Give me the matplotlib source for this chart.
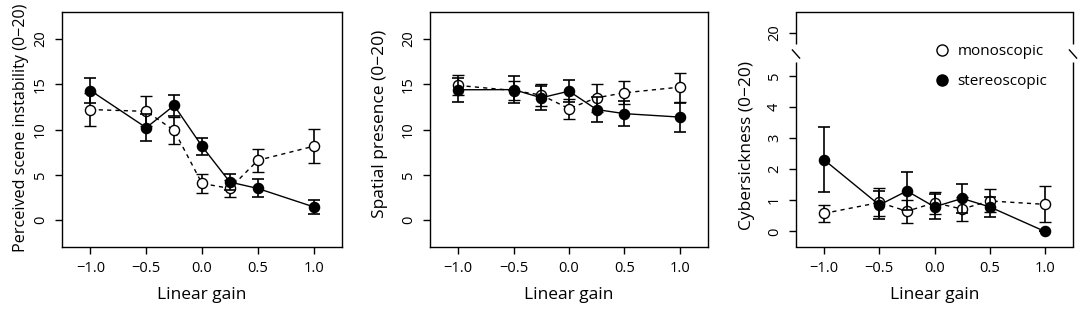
import matplotlib
matplotlib.use("Agg")
import matplotlib.pyplot as plt
from matplotlib.lines import Line2D

plt.rcParams['font.family'] = ['Open Sans', 'DejaVu Sans']

# ganancia lineal (eje x)
gain = [-1.0, -0.5, -0.25, 0.0, 0.25, 0.5, 1.0]

# inestabilidad de la escena
inst_mono = [12.2, 12.0, 9.9, 4.05, 3.5, 6.6, 8.15]
inst_mono_se = [1.85, 1.65, 1.45, 1.03, 0.9, 1.3, 1.9]
inst_stereo = [14.3, 10.2, 12.65, 8.15, 4.2, 3.5, 1.47]
inst_stereo_se = [1.4, 1.5, 1.2, 0.95, 0.9, 1.0, 0.8]

# presencia espacial
pres_mono = [14.86, 14.3, 13.8, 12.3, 13.5, 14.05, 14.67]
pres_mono_se = [1.1, 1.1, 1.25, 1.1, 1.55, 1.25, 1.6]
pres_stereo = [14.38, 14.4, 13.5, 14.23, 12.2, 11.75, 11.37]
pres_stereo_se = [1.35, 1.45, 1.3, 1.25, 1.4, 1.35, 1.6]

# cibermareo
cyber_mono = [0.58, 0.93, 0.65, 0.92, 0.72, 0.98, 0.87]
cyber_mono_se = [0.28, 0.45, 0.37, 0.36, 0.39, 0.37, 0.58]
cyber_stereo = [2.3, 0.85, 1.3, 0.79, 1.06, 0.79, 0.0]
cyber_stereo_se = [1.04, 0.45, 0.6, 0.4, 0.48, 0.33, 0.0]

xticks = [-1.0, -0.5, 0.0, 0.5, 1.0]
xticklabels = ["\u22121.0", "\u22120.5", "0.0", "0.5", "1.0"]

TICK_FS = 10.5
LABEL_FS = 12.5

fig = plt.figure(figsize=(10.84, 3.11), dpi=100)
W, H = 1084, 311

def make_axes(x0, x1, y0=12, y1=247):
    return fig.add_axes([x0 / W, 1 - y1 / H, (x1 - x0) / W, (y1 - y0) / H])

axes = [make_axes(62, 342), make_axes(430, 708), make_axes(796, 1073)]

def draw(ax, mono, mono_se, stereo, stereo_se):
    ax.errorbar(gain, mono, yerr=mono_se, color='black', lw=1.0,
                linestyle=(0, (3, 3)), marker='o', ms=7.3, mfc='white',
                mec='black', mew=1.0, capsize=4.5, elinewidth=1.2,
                capthick=1.2, zorder=2)
    ax.errorbar(gain, stereo, yerr=stereo_se, color='black', lw=1.0,
                linestyle='-', marker='o', ms=7.3, mfc='black', mec='black',
                capsize=4.5, elinewidth=1.2, capthick=1.2, zorder=3)
    ax.set_xlim(-1.255, 1.255)
    ax.set_xticks(xticks)
    ax.set_xticklabels(xticklabels)
    ax.set_xlabel("Linear gain", fontsize=LABEL_FS, labelpad=8)
    ax.tick_params(direction='out', length=5, width=1, labelsize=TICK_FS, pad=5)
    for s in ax.spines.values():
        s.set_linewidth(1.0)

draw(axes[0], inst_mono, inst_mono_se, inst_stereo, inst_stereo_se)
draw(axes[1], pres_mono, pres_mono_se, pres_stereo, pres_stereo_se)
draw(axes[2], cyber_mono, cyber_mono_se, cyber_stereo, cyber_stereo_se)

ylabels = ["Perceived scene instability (0\u221220)", "Spatial presence (0\u221220)"]
ylabel_fs = [11.6, LABEL_FS]
ylabel_pos = [(-0.118, 0.508), (-0.151, 0.523)]
for ax, lab, fs, pos in zip(axes[:2], ylabels, ylabel_fs, ylabel_pos):
    ax.set_ylim(-2.96, 22.96)
    ax.set_yticks([0, 5, 10, 15, 20])
    ax.set_ylabel(lab, fontsize=fs)
    ax.yaxis.set_label_coords(*pos)
    for t in ax.get_yticklabels():
        t.set_rotation(90)
        t.set_va('center')

# panel de cibermareo con eje cortado
ax = axes[2]
ax.set_ylim(-0.5, 7.05)
ax.set_yticks([0, 1, 2, 3, 4, 5, 6.38])
ax.set_yticklabels(["0", "1", "2", "3", "4", "5", "20"])
for t in ax.get_yticklabels():
    t.set_rotation(90)
    t.set_va('center')
ax.set_ylabel("Cybersickness (0\u221220)", fontsize=LABEL_FS)
ax.yaxis.set_label_coords(-0.148, 0.434)
ax.spines['left'].set_visible(False)
ax.spines['right'].set_visible(False)
tr = ax.get_yaxis_transform()
for xs in (0, 1):
    ax.plot([xs, xs], [-0.5, 5.44], color='black', lw=1.0, transform=tr,
            clip_on=False, solid_capstyle='butt')
    ax.plot([xs, xs], [6.02, 7.05], color='black', lw=1.0, transform=tr,
            clip_on=False, solid_capstyle='butt')
    ax.plot([xs - 0.013, xs + 0.013], [5.83, 5.57], color='black', lw=1.0,
            transform=tr, clip_on=False)

# leyenda solo con marcadores
handles = [
    Line2D([], [], linestyle='none', marker='o', ms=8, mfc='white',
           mec='black', mew=1.0, label='monoscopic'),
    Line2D([], [], linestyle='none', marker='o', ms=8, mfc='black',
           mec='black', label='stereoscopic'),
]
ax.legend(handles=handles, loc='upper left', bbox_to_anchor=(0.50, 0.862),
          frameon=False, fontsize=TICK_FS + 0.5, handlelength=1.0,
          handletextpad=0.5, labelspacing=0.95, borderaxespad=0,
          borderpad=0)

fig.savefig("out.png", dpi=100)
